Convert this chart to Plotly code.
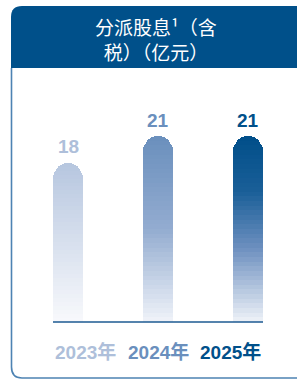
import plotly.graph_objects as go

# ---- data ----
years = ["2023年", "2024年", "2025年"]
dividends = [18, 21, 21]
value_labels = ["18", "21", "21"]
title_text = "分派股息¹（含<br>税）（亿元）"

# ---- style ----
W, H = 297, 380
label_colors = ["#aebfda", "#6a8fbd", "#00508a"]
grad_stops = [
    [(0.0, "#b6c6df"), (1.0, "#f8f9fc")],
    [(0.0, "#6a8fbd"), (0.5, "#93acd0"), (1.0, "#f0f3f9")],
    [(0.0, "#004e89"), (0.3, "#1a5f98"), (0.6, "#6c8fbf"), (1.0, "#eef2f8")],
]
N = 40
BW = 1 / 3


def hex2rgb(h):
    h = h.lstrip("#")
    return tuple(int(h[i:i + 2], 16) for i in (0, 2, 4))


def grad(stops, t):
    for (t0, c0), (t1, c1) in zip(stops[:-1], stops[1:]):
        if t0 <= t <= t1:
            f = (t - t0) / (t1 - t0) if t1 > t0 else 0
            a, b = hex2rgb(c0), hex2rgb(c1)
            return "rgb(%d,%d,%d)" % tuple(round(a[i] + (b[i] - a[i]) * f) for i in range(3))
    return stops[-1][1]


fig = go.Figure()
xs = list(range(len(years)))
for k in range(N):
    t = 1 - (k + 0.5) / N  # fraction from top
    fig.add_trace(go.Bar(
        x=xs,
        y=[v / N for v in dividends],
        width=BW,
        marker=dict(color=[grad(s, t) for s in grad_stops], line=dict(width=0), cornerradius=15),
        hoverinfo="skip",
        showlegend=False,
    ))

# value labels
for i, (v, txt) in enumerate(zip(dividends, value_labels)):
    fig.add_annotation(x=i, y=v, text="<b>%s</b>" % txt, showarrow=False, yshift=16,
                       xanchor="center", yanchor="middle",
                       font=dict(size=19, color=label_colors[i], family="Liberation Sans, Arial"))
# category labels: justified across the baseline span
n = len(years)
for i, yr in enumerate(years):
    if i == 0:
        xa, xpos = "left", -BW / 2
    elif i == n - 1:
        xa, xpos = "right", n - 1 + BW / 2
    else:
        xa, xpos = "center", i
    fig.add_annotation(x=xpos, y=0, text="<b>%s</b>" % yr, showarrow=False, yshift=-30,
                       xanchor=xa, yanchor="middle",
                       font=dict(size=19, color=label_colors[i],
                                 family="Liberation Sans, Noto Sans CJK SC"))


def px(x):
    return x / W


def py(y):
    return 1 - y / H


# card header (rounded top-left)
r = 11
x0, y0, y1 = 11, 6, 68
hdr = (f"M {px(x0)},{py(y1)} L {px(x0)},{py(y0 + r)} "
       f"Q {px(x0)},{py(y0)} {px(x0 + r)},{py(y0)} L {px(W + 5)},{py(y0)} "
       f"L {px(W + 5)},{py(y1)} Z")
fig.add_shape(type="path", path=hdr, xref="paper", yref="paper",
              fillcolor="#00508a", line=dict(width=0), layer="below")
# card border (left + bottom, rounded bottom-left)
yb = 378
bord = (f"M {px(x0 + 0.5)},{py(y1)} L {px(x0 + 0.5)},{py(yb - r)} "
        f"Q {px(x0 + 0.5)},{py(yb)} {px(x0 + r)},{py(yb)} L {px(W + 5)},{py(yb)}")
fig.add_shape(type="path", path=bord, xref="paper", yref="paper",
              line=dict(color="#4d83b3", width=1.6), layer="below")

# baseline
fig.add_shape(type="line", xref="x", yref="y", x0=-BW / 2, x1=n - 1 + BW / 2,
              y0=0, y1=0, line=dict(color="#1d5a92", width=1.6))

# title
fig.add_annotation(xref="paper", yref="paper", x=px(156), y=py(39), text=title_text,
                   showarrow=False, align="center", xanchor="center", yanchor="middle",
                   font=dict(size=19, color="white", family="Noto Sans CJK SC"))

ppu = (322 - 136) / 21
fig.update_layout(
    width=W, height=H, margin=dict(l=0, r=0, t=0, b=0),
    paper_bgcolor="white", plot_bgcolor="rgba(0,0,0,0)",
    barmode="stack", bargap=0,
    xaxis=dict(range=[-68 / 90, (W - 68) / 90], visible=False, fixedrange=True),
    yaxis=dict(range=[-(H - 322) / ppu, 322 / ppu], visible=False, fixedrange=True),
)

fig.write_html("out.html", config={"displayModeBar": False},
               post_script="document.body.style.margin='0';document.body.style.overflow='hidden';")
